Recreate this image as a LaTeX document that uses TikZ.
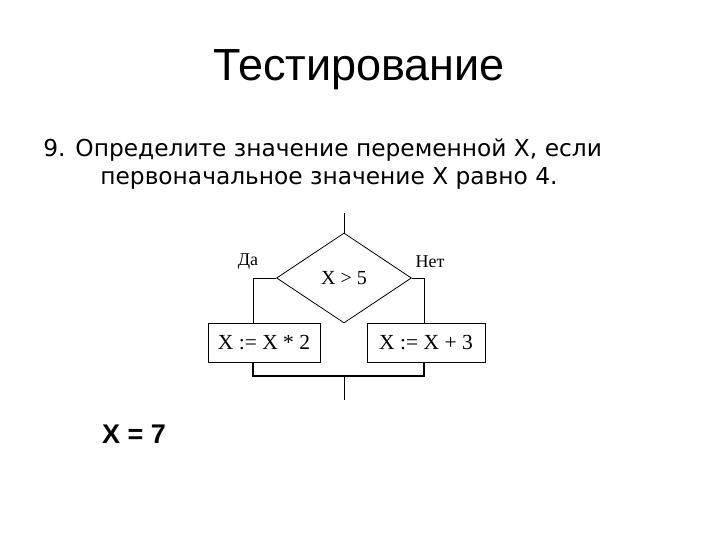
\documentclass[tikz,border=0pt]{standalone}
\usepackage{fontspec}
\setmainfont{Liberation Serif}
\newfontfamily\titlefont{Liberation Sans}
\newfontfamily\bodyfont{DejaVu Sans}
\usetikzlibrary{shapes.geometric}
\tikzset{
  opbox/.style={draw,rectangle,inner sep=0pt,minimum height=39pt,font=\fontsize{21.5}{26}\selectfont},
  branch/.style={font=\fontsize{18}{22}\selectfont}
}
\begin{document}
\begin{tikzpicture}[x=1pt,y=-1pt,line width=0.8pt]
	\useasboundingbox (0,0) rectangle (720,540);
	\node[font=\titlefont\fontsize{45}{54}\selectfont] (title) at (359,70) {Тестирование};
	\node[anchor=base west,inner sep=0pt,font=\bodyfont\fontsize{23.3}{28}\selectfont] (taskA) at (43,157) {9. Определите значение переменной X, если};
	\node[anchor=base west,inner sep=0pt,font=\bodyfont\fontsize{23.3}{28}\selectfont] (taskB) at (100,185) {первоначальное значение X равно 4.};
	\coordinate (in) at (344,213);
	\node[draw,diamond,aspect=1.5,inner sep=0pt,minimum width=135pt,minimum height=90pt,font=\fontsize{20}{24}\selectfont] (cond) at (344,278) {X > 5};
	\node[branch] (yes) at (248,262) {Да};
	\node[branch] (no) at (430,262) {Нет};
	\node[opbox,minimum width=112pt] (mul) at (264,342.5) {X := X * 2};
	\node[opbox,minimum width=118pt] (add) at (426,342.5) {X := X + 3};
	\coordinate (yl) at (253,278);
	\coordinate (nr) at (424,278);
	\coordinate (join) at (344,376);
	\coordinate (out) at (344,400);
	\draw (in)--(cond.north);
	\draw (cond.west)--(yl)--(yl |- mul.north);
	\draw (cond.east)--(nr)--(nr |- add.north);
	\draw[line width=2pt] (yl |- mul.south)--(yl |- join)--(nr |- join)--(nr |- add.south);
	\draw (join)--(out);
	\node[font=\titlefont\bfseries\fontsize{27}{32}\selectfont] (answer) at (134,434) {X = 7};
\end{tikzpicture}
\end{document}
